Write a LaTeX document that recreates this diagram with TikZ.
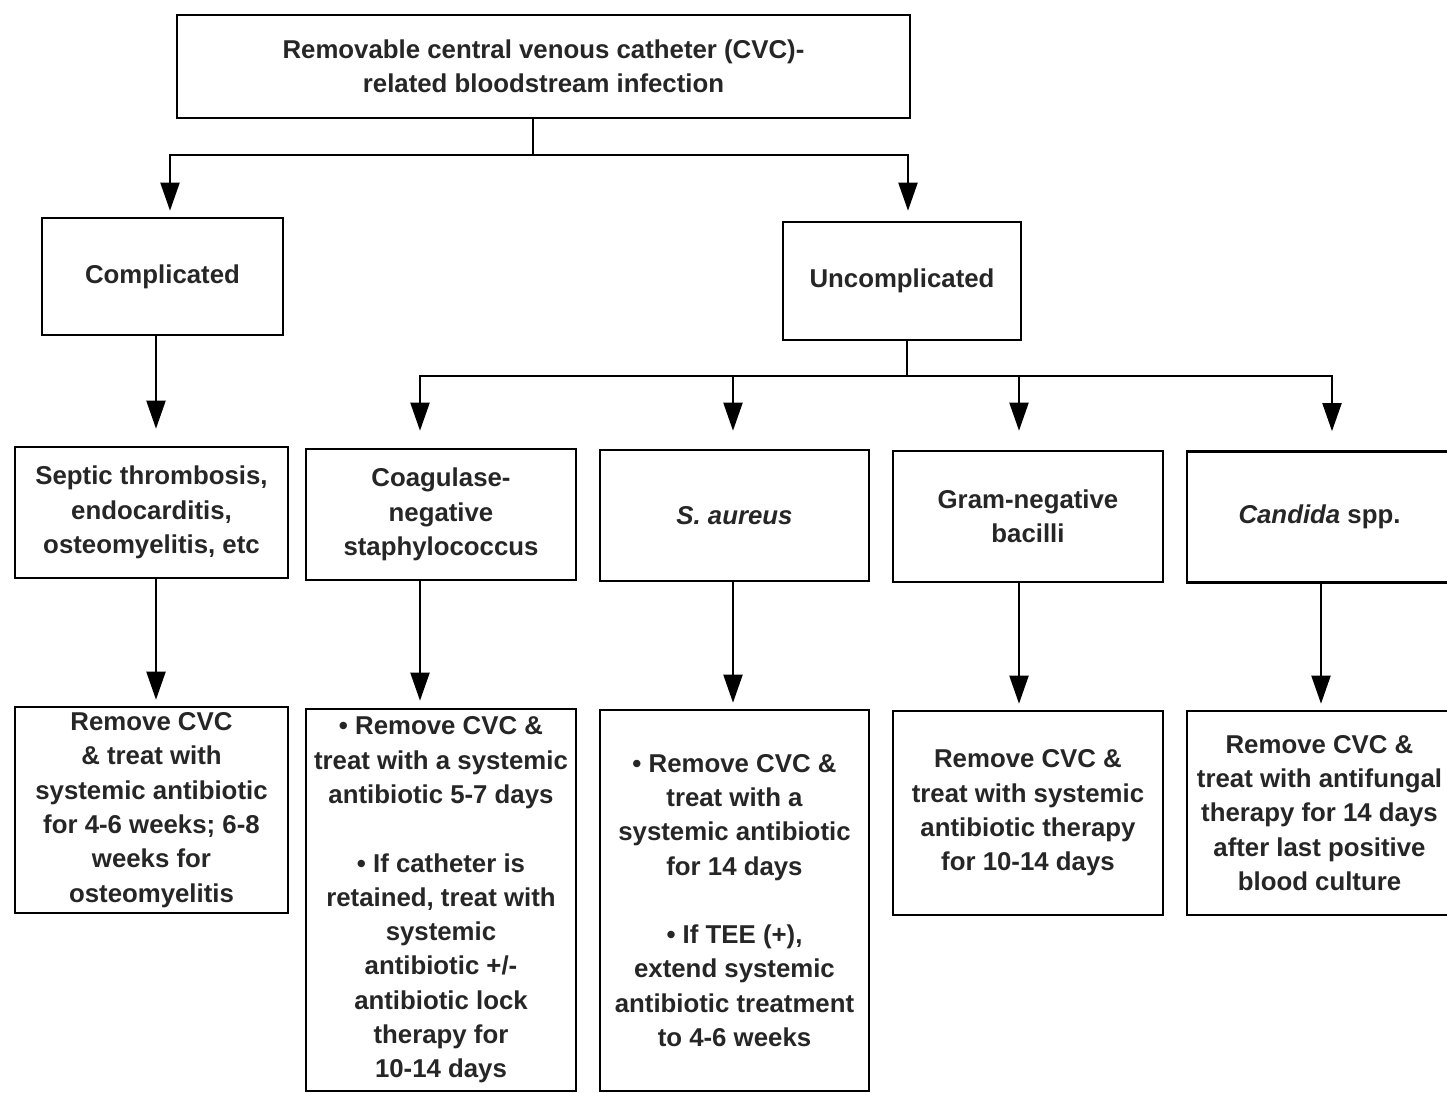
\documentclass[tikz,border=0pt]{standalone}
\usepackage{fontspec}
\setmainfont{Liberation Sans}
\usetikzlibrary{arrows.meta,calc}
\begin{document}
\begin{tikzpicture}[x=0.5pt,y=-0.5pt,
  box/.style={draw, line width=1.3pt, inner sep=0pt, align=center, text=black!85,
    font=\fontsize{12.9}{17.15}\selectfont\bfseries},
  arr/.style={line width=1pt, -{Triangle[length=14pt,width=9.5pt]}},
  ln/.style={line width=1pt}]
\useasboundingbox (0,0) rectangle (1447,1093);

% level 1
\node[box, minimum width=366.5pt, minimum height=51.5pt] (top) at (543.5,66.5)
  {Removable central venous catheter (CVC)-\\related bloodstream infection};
% level 2
\node[box, minimum width=120.5pt, minimum height=58.5pt] (comp) at (162.5,276.5) {Complicated};
\node[box, minimum width=119pt, minimum height=59pt] (uncomp) at (902,281) {Uncomplicated};
% level 3
\node[box, minimum width=136.5pt, minimum height=65.5pt] (sep) at (151.5,512.5)
  {Septic thrombosis,\\endocarditis,\\osteomyelitis, etc};
\node[box, minimum width=135pt, minimum height=65.5pt] (coag) at (441,514.5)
  {Coagulase-\\negative\\staphylococcus};
\node[box, minimum width=134.5pt, minimum height=65.5pt] (saur) at (734.5,515.5)
  {\itshape S. aureus};
\node[box, minimum width=135pt, minimum height=65.5pt] (gram) at (1028,516.5)
  {Gram-negative\\bacilli};
\node[box, minimum width=132.5pt, minimum height=65.5pt] (cand) at (1319.5,517)
  {\textit{Candida} spp.};
% level 4
\node[box, minimum width=136.5pt, minimum height=103pt] (rem1) at (151.5,810)
  {Remove CVC\\\& treat with\\systemic antibiotic\\for 4-6 weeks; 6-8\\weeks for\\osteomyelitis};
\node[box, minimum width=135pt, minimum height=191pt] (coag2) at (441,900)
  {• Remove CVC \&\\treat with a systemic\\antibiotic 5-7 days\\[17.15pt]
   • If catheter is\\retained, treat with\\systemic\\antibiotic +/-\\antibiotic lock\\therapy for\\10-14 days};
\node[box, minimum width=134.5pt, minimum height=190.5pt] (saur2) at (734.5,900.5)
  {• Remove CVC \&\\treat with a\\systemic antibiotic\\for 14 days\\[17.15pt]
   • If TEE (+),\\extend systemic\\antibiotic treatment\\to 4-6 weeks};
\node[box, minimum width=135pt, minimum height=102pt] (gram2) at (1028,813)
  {Remove CVC \&\\treat with systemic\\antibiotic therapy\\for 10-14 days};
\node[box, minimum width=132.5pt, minimum height=102pt] (cand2) at (1319.5,813)
  {Remove CVC \&\\treat with antifungal\\therapy for 14 days\\after last positive\\blood culture};

% connectors level 1 -> 2
\coordinate (j1) at (533,155);
\draw[ln] (top.south -| j1) -- (j1);
\draw[arr, shorten >=3pt] (j1) -| ($(comp.north)+(7.5,0)$);
\draw[arr, shorten >=5pt] (j1) -| ($(uncomp.north)+(6,0)$);
% complicated -> septic
\draw[arr, shorten >=8.5pt] ($(comp.south)+(-6.5,0)$) -- ($(sep.north)+(4.5,0)$);
% uncomplicated -> four
\coordinate (j2) at (907,376);
\draw[ln] ($(uncomp.south)+(5,0)$) -- (j2);
\draw[arr, shorten >=8.5pt] (j2) -| ($(coag.north)+(-21,0)$);
\draw[arr, shorten >=9pt] (j2) -| ($(saur.north)+(-1.5,0)$);
\draw[arr, shorten >=9.5pt] (j2) -| ($(gram.north)+(-9,0)$);
\draw[arr, shorten >=9.5pt] (j2) -| ($(cand.north)+(12.5,0)$);
% level 3 -> 4
\draw[arr, shorten >=3pt] ($(sep.south)+(4.5,0)$) -- ($(rem1.north)+(4.5,0)$);
\draw[arr, shorten >=3.5pt] ($(coag.south)+(-21,0)$) -- ($(coag2.north)+(-21,0)$);
\draw[arr, shorten >=3pt] ($(saur.south)+(-1.5,0)$) -- ($(saur2.north)+(-1.5,0)$);
\draw[arr, shorten >=3pt] ($(gram.south)+(-9,0)$) -- ($(gram2.north)+(-9,0)$);
\draw[arr, shorten >=3pt] ($(cand.south)+(1.5,0)$) -- ($(cand2.north)+(1.5,0)$);
\end{tikzpicture}
\end{document}
